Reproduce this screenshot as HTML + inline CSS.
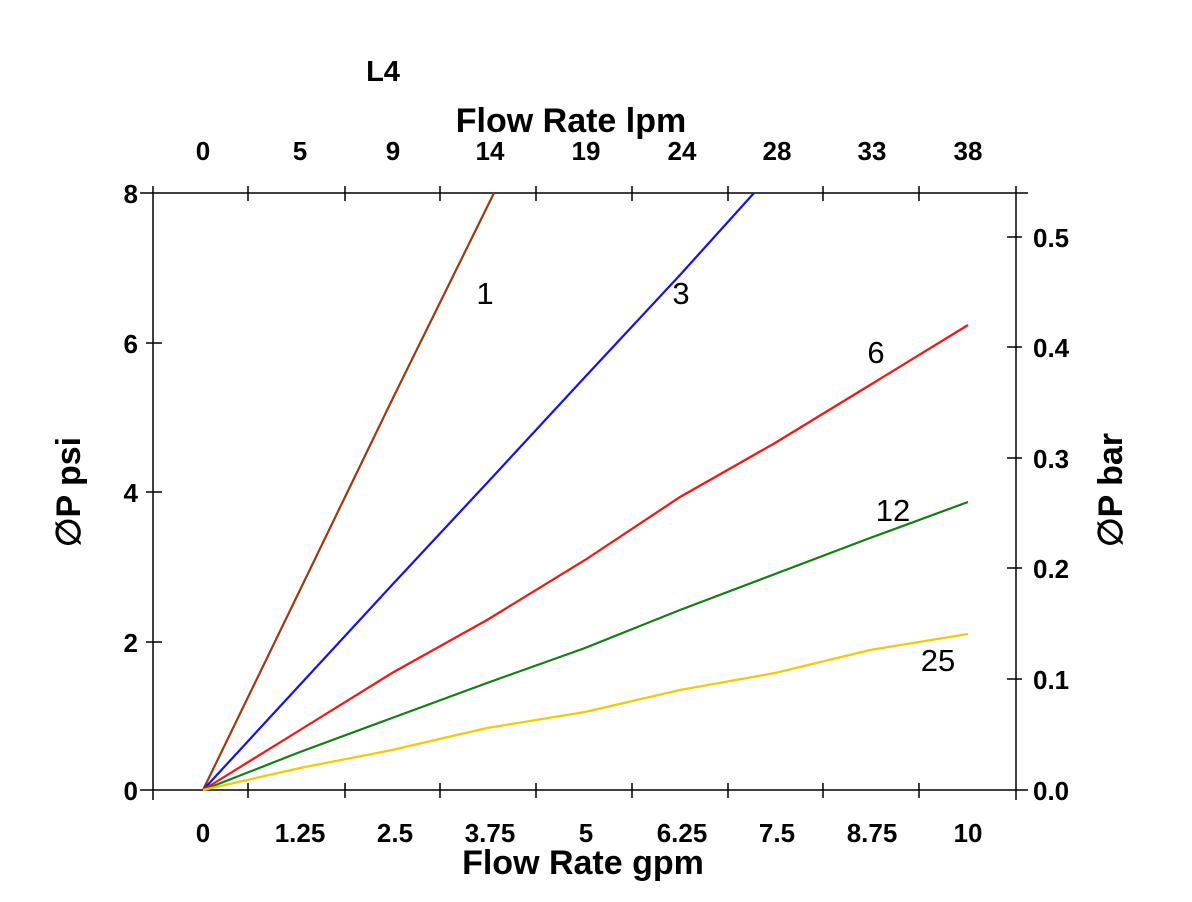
<!DOCTYPE html>
<html><head><meta charset="utf-8"><style>
html,body{margin:0;padding:0;background:#fff;}
svg{display:block;}
text{font-family:"Liberation Sans",Arial,sans-serif;fill:#000;}
.b{font-weight:bold;font-size:26px;}
.t{font-weight:bold;font-size:34px;}
.c{font-size:31px;}
</style></head><body>
<svg width="1192" height="902" viewBox="0 0 1192 902" xmlns="http://www.w3.org/2000/svg">
<g stroke="#000" stroke-width="1.5" fill="none">
<line x1="140" y1="193" x2="1028" y2="193"/>
<line x1="140" y1="790" x2="1028" y2="790"/>
<line x1="153" y1="186" x2="153" y2="800"/>
<line x1="1016" y1="186" x2="1016" y2="800"/>
<path d="M248 783V798M345 783V798M440 783V798M536 783V798M632 783V798M728 783V798M823 783V798M919 783V798"/>
<path d="M248 186V201M345 186V201M440 186V201M536 186V201M632 186V201M728 186V201M823 186V201M919 186V201"/>
<path d="M146 343H162M146 492H162M146 642H162"/>
<path d="M1007 237H1022M1007 347H1022M1007 458H1022M1007 568H1022M1007 679H1022"/>
</g>
<g fill="none" stroke-width="2.2">
<polyline stroke="#a0380a" points="203,790 300,590 392,400 494,193"/>
<polyline stroke="#1010ff" points="203,790 392,585 487,483 585,377 680,275 754,193"/>
<polyline stroke="#ff1010" points="203,790 300,730 392,673 487,620 585,560 680,497 775,443 870,385 968,325"/>
<polyline stroke="#108010" points="203,790 300,752 392,718 487,683 585,648 680,610 775,574 870,538 968,502"/>
<polyline stroke="#f5c800" points="203,790 300,768 392,750 487,728 585,712 680,690 775,673 870,650 968,634"/>
</g>
<g class="b" text-anchor="middle">
<text x="203" y="842">0</text><text x="300" y="842">1.25</text><text x="395" y="842">2.5</text><text x="490" y="842">3.75</text><text x="586" y="842">5</text><text x="682" y="842">6.25</text><text x="777" y="842">7.5</text><text x="872" y="842">8.75</text><text x="968" y="842">10</text>
<text x="203" y="160">0</text><text x="300" y="160">5</text><text x="393" y="160">9</text><text x="490" y="160">14</text><text x="586" y="160">19</text><text x="682" y="160">24</text><text x="777" y="160">28</text><text x="872" y="160">33</text><text x="968" y="160">38</text>
</g>
<g class="b" text-anchor="end">
<text x="138" y="203">8</text><text x="138" y="353">6</text><text x="138" y="502">4</text><text x="138" y="652">2</text><text x="138" y="800">0</text>
</g>
<g class="b" text-anchor="start">
<text x="1033" y="247">0.5</text><text x="1033" y="357">0.4</text><text x="1033" y="468">0.3</text><text x="1033" y="578">0.2</text><text x="1033" y="689">0.1</text><text x="1033" y="800">0.0</text>
</g>
<text x="383" y="81" text-anchor="middle" style="font-weight:bold;font-size:29px">L4</text>
<text class="t" x="571" y="132" text-anchor="middle">Flow Rate lpm</text>
<text class="t" x="583" y="874" text-anchor="middle">Flow Rate gpm</text>
<text class="t" transform="translate(80,492) rotate(-90)" text-anchor="middle">∅P psi</text>
<text class="t" transform="translate(1122,490) rotate(-90)" text-anchor="middle">∅P bar</text>
<g class="c" text-anchor="middle">
<text x="485" y="304">1</text><text x="681" y="304">3</text><text x="876" y="363">6</text><text x="893" y="521">12</text><text x="938" y="671">25</text>
</g>
</svg>
</body></html>
